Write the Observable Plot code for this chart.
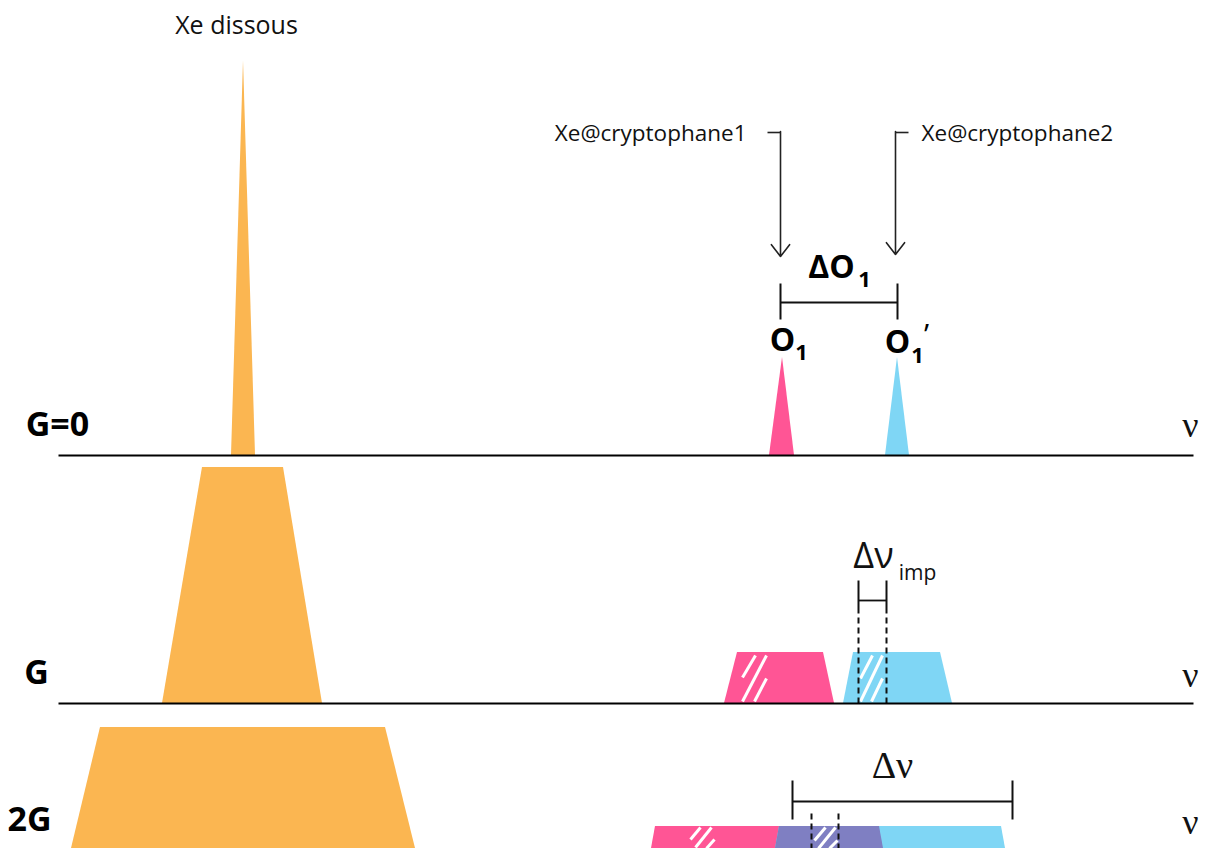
<!DOCTYPE html>
<html>
<head>
<meta charset="utf-8">
<script src="https://cdn.jsdelivr.net/npm/d3@7"></script>
<script src="https://cdn.jsdelivr.net/npm/@observablehq/plot@0.6"></script>
<style>
  html, body { margin: 0; padding: 0; background: #fff; }
  #chart svg { display: block; }
</style>
</head>
<body>
<div id="chart"></div>
<script>
// ---- Data (schematic units: x = frequency ν, y = vertical drawing units, downwards) ----
const colors = { xe: "#FBB651", c1: "#FF5595", c2: "#7FD6F5", both: "#7F7FC2" };

// Peaks: bottom-left, top-left, top-right, bottom-right x; baseline and top levels
const peaks = [
  { id: "xe0",  kind: "xe",   base: 455, top: 60,  bl: 231, tl: 243, tr: 243, br: 255 },
  { id: "o1",   kind: "c1",   base: 455, top: 357, bl: 769, tl: 782, tr: 782, br: 794 },
  { id: "o1p",  kind: "c2",   base: 455, top: 357, bl: 885, tl: 897, tr: 897, br: 909 },
  { id: "xeG",  kind: "xe",   base: 703, top: 467, bl: 162, tl: 202, tr: 283, br: 322 },
  { id: "c1G",  kind: "c1",   base: 703, top: 652, bl: 724, tl: 737, tr: 823, br: 834 },
  { id: "c2G",  kind: "c2",   base: 703, top: 652, bl: 843, tl: 853, tr: 940, br: 952 },
  { id: "xe2G", kind: "xe",   base: 848, top: 727, bl: 71,  tl: 100, tr: 385, br: 415 },
  { id: "c12G", kind: "c1",   base: 848, top: 826, bl: 651, tl: 655, tr: 879, br: 883 },
  { id: "c22G", kind: "c2",   base: 848, top: 826, bl: 775, tl: 779, tr: 1001, br: 1005 },
  { id: "ov2G", kind: "both", base: 848, top: 826, bl: 775, tl: 779, tr: 879, br: 883 }
];

// Spectrum baselines (ν axes)
const baselines = [
  { y: 455, x1: 58, x2: 1193 },
  { y: 703, x1: 58, x2: 1193 }
];

// White hatch strokes inside peaks
const hatches = [
  { x1: 755, y1: 655, x2: 742, y2: 677 },
  { x1: 766, y1: 655, x2: 742, y2: 701 },
  { x1: 766, y1: 678, x2: 754, y2: 701 },
  { x1: 872, y1: 655, x2: 860, y2: 678 },
  { x1: 882, y1: 655, x2: 860, y2: 701 },
  { x1: 882, y1: 678, x2: 871, y2: 701 },
  { x1: 700, y1: 827, x2: 690, y2: 839 },
  { x1: 711, y1: 827, x2: 695, y2: 847 },
  { x1: 714, y1: 839, x2: 706, y2: 848 },
  { x1: 825, y1: 827, x2: 814, y2: 840 },
  { x1: 835, y1: 827, x2: 818, y2: 848 },
  { x1: 837, y1: 840, x2: 829, y2: 848 }
];

// Dashed guides (imperfection width)
const dashes = [
  { x: 858, y1: 617, y2: 703 },
  { x: 886, y1: 617, y2: 703 },
  { x: 811, y1: 813, y2: 848 },
  { x: 838, y1: 813, y2: 848 }
];

// Brackets: horizontal span with end ticks
const brackets = [
  { x1: 780, x2: 897, y: 302, t1: 283, t2: 319 },
  { x1: 858, x2: 886, y: 600, t1: 580, t2: 613 },
  { x1: 792, x2: 1012, y: 801, t1: 780, t2: 819 }
];

// Annotation arrows (elbow: short horizontal lead then down arrow)
const arrows = [
  { xs: 767, x: 780, y1: 132, y2: 256 },
  { xs: 908, x: 895, y1: 132, y2: 254 }
];

// Text labels
const plainLabels = [
  { text: "Xe dissous", x: 236, y: 25, anchor: "middle" },
  { text: "Xe@cryptophane1", x: 746, y: 133, anchor: "end" },
  { text: "Xe@cryptophane2", x: 921, y: 133, anchor: "start" }
];
const rowLabels = [
  { text: "G=0", x: 57, y: 425 },
  { text: "G",   x: 36, y: 673 },
  { text: "2G",  x: 29, y: 820 }
];
const nuLabels = [
  { text: "ν", x: 1190, y: 425 },
  { text: "ν", x: 1190, y: 675 },
  { text: "ν", x: 1190, y: 822 }
];
const boldMain = [
  { text: "ΔO", x: 831, y: 267 },
  { text: "O",  x: 782, y: 340 },
  { text: "O",  x: 897, y: 342 }
];
const boldSubs = [
  { text: "1", x: 864, y: 279 },
  { text: "1", x: 801, y: 352 },
  { text: "1", x: 917, y: 355 }
];
const primes = [{ text: "’", x: 926, y: 335 }];
const deltaNuImp = [{ text: "Δν", x: 873, y: 556 }];
const impSub = [{ text: "imp", x: 917, y: 573 }];
const deltaNu = [{ text: "Δν", x: 892, y: 765 }];

// ---- Build area point lists from peak vertices ----
const peakPts = peaks.flatMap(p => [
  { id: p.id, x: p.bl, y1: p.base, y2: p.base },
  { id: p.id, x: p.tl, y1: p.base, y2: p.top },
  { id: p.id, x: p.tr + (p.tr === p.tl ? 0.001 : 0), y1: p.base, y2: p.top },
  { id: p.id, x: p.br, y1: p.base, y2: p.base }
]);

const sans = "'Open Sans', 'Noto Sans', sans-serif";
const serif = "'Liberation Serif', 'DejaVu Serif', serif";

const chart = Plot.plot({
  width: 1205,
  height: 848,
  margin: 0,
  style: { background: "#fff", overflow: "visible" },
  x: { domain: [0, 1205], range: [0, 1205], axis: null },
  y: { domain: [0, 848], range: [0, 848], axis: null },
  marks: [
    ...peaks.map(p => Plot.areaY(peakPts.filter(d => d.id === p.id), {
      x: "x", y1: "y1", y2: "y2", fill: colors[p.kind], curve: "linear"
    })),
    Plot.link(hatches, { x1: "x1", y1: "y1", x2: "x2", y2: "y2", stroke: "#fff", strokeWidth: 3 }),
    Plot.link(dashes, { x1: "x", x2: "x", y1: "y1", y2: "y2", stroke: "#111", strokeWidth: 2, strokeDasharray: "6,4" }),
    Plot.link(baselines, { x1: "x1", x2: "x2", y1: "y", y2: "y", stroke: "#000", strokeWidth: 2 }),
    Plot.link(brackets, { x1: "x1", x2: "x2", y1: "y", y2: "y", stroke: "#111", strokeWidth: 1.8 }),
    Plot.link(brackets, { x1: "x1", x2: "x1", y1: "t1", y2: "t2", stroke: "#111", strokeWidth: 2 }),
    Plot.link(brackets, { x1: "x2", x2: "x2", y1: "t1", y2: "t2", stroke: "#111", strokeWidth: 2 }),
    Plot.link(arrows, { x1: "xs", x2: "x", y1: "y1", y2: "y1", stroke: "#222", strokeWidth: 1.6 }),
    Plot.arrow(arrows, { x1: "x", x2: "x", y1: "y1", y2: "y2", stroke: "#222", strokeWidth: 1.6, headLength: 14, headAngle: 75, insetStart: -1 }),
    Plot.text(plainLabels.filter(d => d.anchor === "middle"), { x: "x", y: "y", text: "text", fontSize: 25, fontFamily: sans, fill: "#111", textAnchor: "middle" }),
    Plot.text(plainLabels.filter(d => d.anchor === "end"), { x: "x", y: "y", text: "text", fontSize: 22.5, fontFamily: sans, fill: "#111", textAnchor: "end" }),
    Plot.text(plainLabels.filter(d => d.anchor === "start"), { x: "x", y: "y", text: "text", fontSize: 22.5, fontFamily: sans, fill: "#111", textAnchor: "start" }),
    Plot.text(rowLabels, { x: "x", y: "y", text: "text", fontSize: 34, fontWeight: "bold", fontFamily: sans, fill: "#000" }),
    Plot.text(nuLabels, { x: "x", y: "y", text: "text", fontSize: 36, fontFamily: serif, fill: "#111" }),
    Plot.text(boldMain, { x: "x", y: "y", text: "text", fontSize: 32, fontWeight: "bold", fontFamily: sans, fill: "#000" }),
    Plot.text(boldSubs, { x: "x", y: "y", text: "text", fontSize: 22, fontWeight: "bold", fontFamily: sans, fill: "#000" }),
    Plot.text(primes, { x: "x", y: "y", text: "text", fontSize: 30, fontFamily: sans, fill: "#000" }),
    Plot.text(deltaNuImp, { x: "x", y: "y", text: "text", fontSize: 36, fontFamily: sans, fill: "#111" }),
    Plot.text(impSub, { x: "x", y: "y", text: "text", fontSize: 21, fontFamily: sans, fill: "#111" }),
    Plot.text(deltaNu, { x: "x", y: "y", text: "text", fontSize: 38, fontFamily: serif, fill: "#111" })
  ]
});
document.getElementById("chart").appendChild(chart);
</script>
</body>
</html>
